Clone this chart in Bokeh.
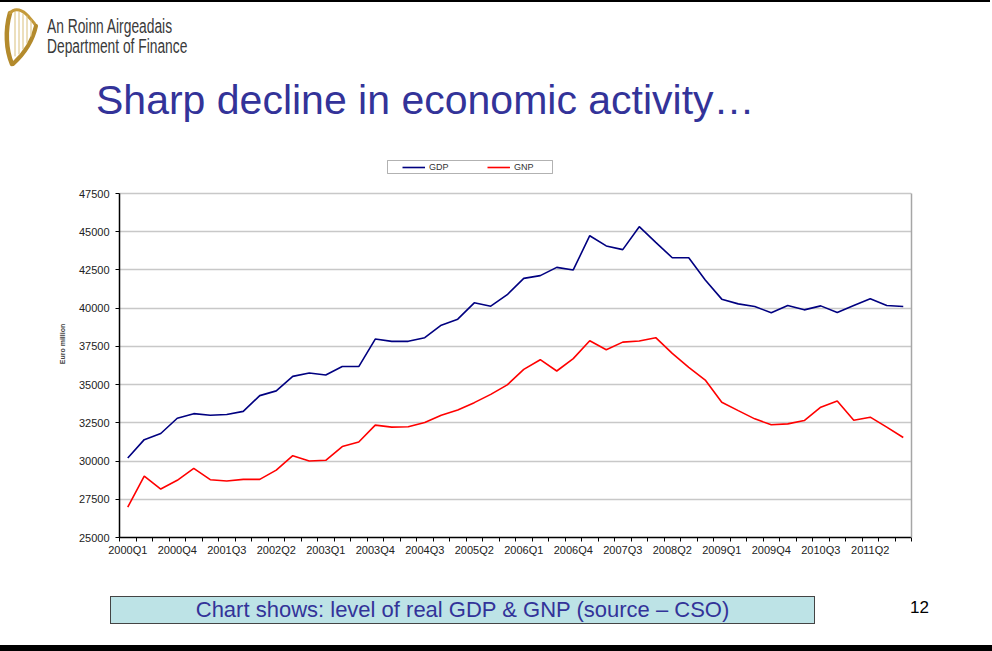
from bokeh.plotting import figure
from bokeh.layouts import column
from bokeh.models import (Range1d, FixedTicker, Legend, LegendItem, ColumnDataSource,
                          BoxAnnotation, LinearAxis, Div)
from bokeh.embed import file_html
from bokeh.resources import INLINE

# ---------------- data ----------------
quarters = [f"{y}Q{q}" for y in range(2000, 2012) for q in range(1, 5)]

gdp = [30200, 31400, 31800, 32800, 33100, 33000, 33050, 33250, 34280, 34590, 35540, 35760,
       35630, 36180, 36180, 37980, 37830, 37830, 38070, 38890, 39280, 40350, 40130, 40880,
       41950, 42130, 42670, 42500, 44740, 44070, 43830, 45330, 44300, 43300, 43300, 41840,
       40590, 40280, 40110, 39700, 40170, 39890, 40150, 39720, 40170, 40610, 40170, 40110]

gnp = [26980, 29020, 28170, 28740, 29520, 28780, 28700, 28800, 28800, 29410, 30350, 30000,
       30050, 30950, 31250, 32350, 32220, 32240, 32520, 33000, 33340, 33820, 34360, 34980,
       36000, 36630, 35890, 36700, 37870, 37280, 37780, 37850, 38070, 37040, 36130, 35300,
       33850, 33300, 32760, 32370, 32430, 32650, 33520, 33930, 32670, 32870, 32220, 31540]

tick_labels = ["2000Q1", "2000Q4", "2001Q3", "2002Q2", "2003Q1", "2003Q4", "2004Q3", "2005Q2",
               "2006Q1", "2006Q4", "2007Q3", "2008Q2", "2009Q1", "2009Q4", "2010Q3", "2011Q2"]
y_ticks = [25000, 27500, 30000, 32500, 35000, 37500, 40000, 42500, 45000, 47500]
y_min, y_max = 25000, 47500

series_names = ["GDP", "GNP"]
series_colors = ["#000080", "#ff0000"]

W = 992
FONT = "Liberation Sans"
BLUE_TXT = "#333399"

# vertical bands of the page
HEAD_H = 150          # header (logo + title)
CHART_BOT = 585       # chart figure spans 150..585
FOOT_H = 651 - CHART_BOT
FRAME_L, FRAME_R, GRID_TOP, FRAME_B = 119, 911, 193, 537

# ---------------- header ----------------
harp_svg = """
<svg width="40" height="64" style="position:absolute;left:2px;top:4px" xmlns="http://www.w3.org/2000/svg">
  <g fill="none" stroke-linecap="round">
    <path d="M10 60 C4 46 3 26 8 9" stroke="#b38a2c" stroke-width="4.5"/>
    <path d="M8 9 C13 3 21 6 26 12 C29 16 32 18 34 22" stroke="#c49a3a" stroke-width="3"/>
    <path d="M34 22 C31 36 23 49 11 60" stroke="#b38a2c" stroke-width="4"/>
    <path d="M13 8 L13 52 M17 8 L17 50 M21 10 L21 45 M25 12 L25 39 M29 16 L29 32"
          stroke="#d9bf7a" stroke-width="1"/>
  </g>
</svg>"""

logo_style = ("position:absolute;left:47px;font-family:'Liberation Sans',Arial,sans-serif;"
              "font-size:20px;line-height:1;color:#3a3a3a;white-space:nowrap;"
              "transform:scaleX(0.69);transform-origin:0 0;")
header_html = f"""
<div style="position:relative;width:{W}px;height:{HEAD_H}px;overflow:hidden;background:#fff;margin:0;">
  <div style="position:absolute;left:0;top:0;width:990px;height:2px;background:#000;"></div>
  {harp_svg}
  <div style="{logo_style}top:16px;">An Roinn Airgeadais</div>
  <div style="{logo_style}top:36px;">Department of Finance</div>
  <div style="position:absolute;left:96px;top:80px;font-family:'Liberation Sans',Arial,sans-serif;
              font-size:41px;line-height:1;color:{BLUE_TXT};white-space:nowrap;">Sharp decline in economic activity\u2026</div>
</div>"""
head = Div(text=header_html, width=W, height=HEAD_H, margin=0)

# ---------------- chart ----------------
# frame spans page y 150..537; the y range is extended above 47500 so the legend sits in the frame
px_per_unit = (FRAME_B - GRID_TOP) / (y_max - y_min)
y_top = y_min + (FRAME_B - HEAD_H) / px_per_unit

p = figure(width=W, height=CHART_BOT - HEAD_H, output_backend="svg", toolbar_location=None,
           x_range=Range1d(-0.5, len(quarters) - 0.5), y_range=Range1d(y_min, y_top),
           min_border_left=FRAME_L, min_border_right=W - FRAME_R,
           min_border_top=0, min_border_bottom=CHART_BOT - FRAME_B)
p.background_fill_color = "white"
p.border_fill_color = "white"
p.outline_line_color = None

idx = list(range(len(quarters)))
src = ColumnDataSource(dict(x=idx, q=quarters, gdp=gdp, gnp=gnp))
r1 = p.line("x", "gdp", source=src, line_color=series_colors[0], line_width=1.6)
r2 = p.line("x", "gnp", source=src, line_color=series_colors[1], line_width=1.6)

label_pos = [quarters.index(t) for t in tick_labels]
p.xaxis.ticker = FixedTicker(ticks=label_pos,
                             minor_ticks=[i - 0.5 for i in range(len(quarters) + 1)])
p.xaxis.major_label_overrides = {i: quarters[i] for i in label_pos}
p.xaxis.major_tick_line_color = None
p.xaxis.major_tick_out = 4
p.xaxis.major_tick_in = 0
p.xaxis.minor_tick_out = 4
p.xaxis.minor_tick_in = 0
p.xaxis.minor_tick_line_color = "black"
p.xaxis.major_label_standoff = 2
p.xaxis.axis_line_color = "black"
p.xaxis.axis_line_width = 1.5
p.xaxis.major_label_text_font = FONT
p.xaxis.major_label_text_font_size = "11px"
p.xaxis.major_label_text_color = "#222222"

p.yaxis.ticker = FixedTicker(ticks=y_ticks)
p.yaxis.bounds = (y_min, y_max)
p.yaxis.minor_tick_line_color = None
p.yaxis.major_tick_out = 4
p.yaxis.major_tick_in = 0
p.yaxis.major_label_standoff = 6
p.yaxis.axis_line_color = "black"
p.yaxis.axis_line_width = 1.5
p.yaxis.major_label_text_font = FONT
p.yaxis.major_label_text_font_size = "11px"
p.yaxis.major_label_text_color = "#222222"
p.yaxis.axis_label = "Euro million"
p.yaxis.axis_label_text_font = FONT
p.yaxis.axis_label_text_font_size = "7px"
p.yaxis.axis_label_text_font_style = "bold"
p.yaxis.axis_label_standoff = 10

# right-hand border of the plot area (an unlabeled axis)
right_axis = LinearAxis(bounds=(y_min, y_max), ticker=FixedTicker(ticks=[]),
                        axis_line_color="#a6a6a6", axis_line_width=1.5,
                        major_tick_line_color=None, minor_tick_line_color=None,
                        major_label_text_font_size="0px")
p.add_layout(right_axis, "right")

p.xgrid.grid_line_color = None
p.ygrid.grid_line_color = "#c8c8c8"
p.ygrid.grid_line_width = 1.5

# legend (box + items), positioned in screen units from the frame's bottom-left corner
p.add_layout(BoxAnnotation(left=387 - FRAME_L, right=552 - FRAME_L,
                           top=FRAME_B - 160, bottom=FRAME_B - 173,
                           left_units="screen", right_units="screen",
                           top_units="screen", bottom_units="screen",
                           fill_color="white", fill_alpha=1, line_color="black", line_width=1))
legend = Legend(items=[LegendItem(label=series_names[0], renderers=[r1]),
                       LegendItem(label=series_names[1], renderers=[r2])],
                location=(402 - FRAME_L, FRAME_B - 171.5), orientation="horizontal",
                padding=0, margin=0, spacing=38, label_standoff=4,
                glyph_width=23, glyph_height=10, label_height=10, label_width=20,
                label_text_font=FONT, label_text_font_size="9px", label_text_color="#333333",
                border_line_color=None, background_fill_alpha=0)
p.add_layout(legend, "center")

# ---------------- footer ----------------
footer_html = f"""
<div style="position:relative;width:{W}px;height:{FOOT_H}px;overflow:hidden;background:#fff;margin:0;">
  <div style="position:absolute;left:110px;top:11px;width:705px;height:28px;box-sizing:border-box;
              background:#bde3e6;border:1px solid #444;text-align:center;
              font-family:'Liberation Sans',Arial,sans-serif;font-size:22px;line-height:26px;
              color:{BLUE_TXT};white-space:nowrap;">Chart shows: level of real GDP &amp; GNP (source \u2013 CSO)</div>
  <div style="position:absolute;left:910px;top:14px;font-family:'Liberation Sans',Arial,sans-serif;
              font-size:17px;line-height:1;color:#000;">12</div>
  <div style="position:absolute;left:0;top:60px;width:{W}px;height:6px;background:#000;"></div>
</div>"""
foot = Div(text=footer_html, width=W, height=FOOT_H, margin=0)

layout = column(head, p, foot, spacing=0)
open("out.html", "w").write(file_html(layout, INLINE))
